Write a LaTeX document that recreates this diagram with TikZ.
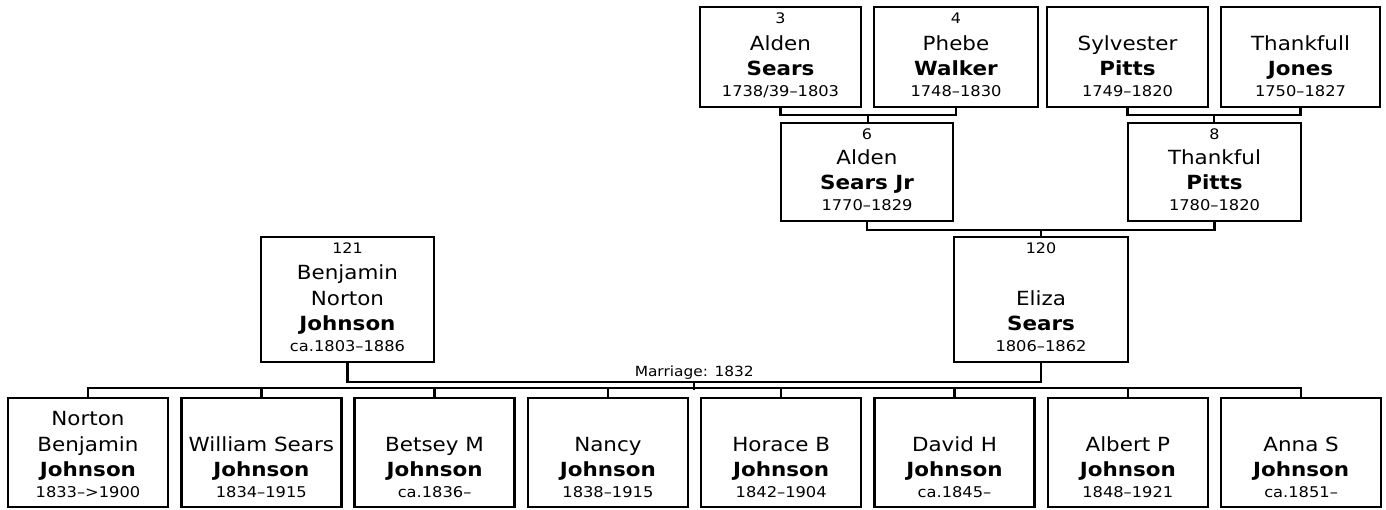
\documentclass[tikz,border=0pt]{standalone}
\usepackage{fontspec}
\setmainfont{DejaVu Sans}[FakeStretch=1.1]
\usetikzlibrary{calc}
\tikzset{
  pbox/.style={draw, line width=2.4pt, inner sep=0pt},
  conn/.style={draw, line width=2.4pt},
  txt/.style={anchor=base, inner sep=0pt},
  num/.style={txt, font=\fontsize{14.5}{16}\selectfont},
  given/.style={txt, font=\fontsize{19.5}{23}\selectfont},
  sur/.style={txt, font=\fontsize{19.5}{23}\selectfont\bfseries},
  dates/.style={txt, font=\fontsize{14.8}{17}\selectfont},
  marr/.style={txt, font=\fontsize{14}{16}\selectfont},
}
\begin{document}
\begin{tikzpicture}[x=1pt,y=-1pt]
\useasboundingbox (0,0) rectangle (1386,509);
% ---- top row (top 7, bottom 107)
\node[pbox, minimum width=161pt, minimum height=100pt] (b3) at (780.5,57) {};
\node[num]   (t3a) at (780.5,23) {3};
\node[given] (t3b) at (780.5,50) {Alden};
\node[sur]   (t3c) at (780.5,75.5) {Sears};
\node[dates] (t3d) at (780.5,96) {1738/39–1803};

\node[pbox, minimum width=164pt, minimum height=100pt] (b4) at (956,57) {};
\node[num]   (t4a) at (956,23) {4};
\node[given] (t4b) at (956,50) {Phebe};
\node[sur]   (t4c) at (956,75.5) {Walker};
\node[dates] (t4d) at (956,96) {1748–1830};

\node[pbox, minimum width=161pt, minimum height=100pt] (bS) at (1127.5,57) {};
\node[given] (tSb) at (1127.5,50) {Sylvester};
\node[sur]   (tSc) at (1127.5,75.5) {Pitts};
\node[dates] (tSd) at (1127.5,96) {1749–1820};

\node[pbox, minimum width=159pt, minimum height=100pt] (bJ) at (1300.5,57) {};
\node[given] (tJb) at (1300.5,50) {Thankfull};
\node[sur]   (tJc) at (1300.5,75.5) {Jones};
\node[dates] (tJd) at (1300.5,96) {1750–1827};

% ---- second row (top 123, bottom 221)
\node[pbox, minimum width=172pt, minimum height=98pt] (b6) at (867,172) {};
\node[num]   (t6a) at (867,139) {6};
\node[given] (t6b) at (867,164) {Alden};
\node[sur]   (t6c) at (867,189.5) {Sears Jr};
\node[dates] (t6d) at (867,210) {1770–1829};

\node[pbox, minimum width=173pt, minimum height=98pt] (b8) at (1214.5,172) {};
\node[num]   (t8a) at (1214.5,139) {8};
\node[given] (t8b) at (1214.5,164) {Thankful};
\node[sur]   (t8c) at (1214.5,189.5) {Pitts};
\node[dates] (t8d) at (1214.5,210) {1780–1820};

% ---- third row (top 237, bottom 362)
\node[pbox, minimum width=173pt, minimum height=125pt] (b121) at (347.5,299.5) {};
\node[num]   (t121a) at (347.5,253) {121};
\node[given] (t121b) at (347.5,279.5) {Benjamin};
\node[given] (t121c) at (347.5,305) {Norton};
\node[sur]   (t121d) at (347.5,330.5) {Johnson};
\node[dates] (t121e) at (347.5,351) {ca.1803–1886};

\node[pbox, minimum width=174pt, minimum height=125pt] (b120) at (1041,299.5) {};
\node[num]   (t120a) at (1041,253) {120};
\node[given] (t120b) at (1041,305) {Eliza};
\node[sur]   (t120c) at (1041,330.5) {Sears};
\node[dates] (t120d) at (1041,351) {1806–1862};

% ---- children (top 398, bottom 507)
\foreach \i/\x/\ga/\gb/\d in {
  1/88/Norton/Benjamin/1833–>1900,
  2/261.3/{}/William Sears/1834–1915,
  3/434.6/{}/Betsey M/ca.1836–,
  4/607.9/{}/Nancy/1838–1915,
  5/781.2/{}/Horace B/1842–1904,
  6/954.5/{}/David H/ca.1845–,
  7/1127.8/{}/Albert P/1848–1921,
  8/1301.1/{}/Anna S/ca.1851–}{
  \node[pbox, minimum width=160pt, minimum height=109pt] (c\i) at (\x,452.5) {};
  \node[given] (c\i a) at (\x,425.5) {\ga};
  \node[given] (c\i b) at (\x,451) {\gb};
  \node[sur]   (c\i c) at (\x,476.5) {Johnson};
  \node[dates] (c\i d) at (\x,497) {\d};
}

% ---- connectors
\draw[conn] (b3.south) -- ++(0,7) coordinate (p3) -| (b4.south);
\coordinate (m34) at ($(p3)!0.5!(p3-|b4.south)$);
\draw[conn] (m34) -- (m34|-b6.north);

\draw[conn] (bS.south) -- ++(0,7) coordinate (pS) -| (bJ.south);
\coordinate (mSJ) at ($(pS)!0.5!(pS-|bJ.south)$);
\draw[conn] (mSJ) -- (mSJ|-b8.north);

\draw[conn] (b6.south) -- ++(0,8) coordinate (p6) -| (b8.south);
\coordinate (m68) at ($(p6)!0.5!(p6-|b8.south)$);
\draw[conn] (m68) -- (m68|-b120.north);

\draw[conn] (b121.south) -- ++(0,19) coordinate (pm) -| (b120.south);
\coordinate (mm) at ($(pm)!0.5!(pm-|b120.south)$);
\node[marr] (mlab) at ($(mm)+(0,-5.5)$) {Marriage: 1832};
\draw[conn] (mm) -- ++(0,8) coordinate (cb);

\draw[conn] (c1.north) -- ++(0,-9) -| (c8.north);
\foreach \i in {2,...,7}{
  \draw[conn] (c\i.north) -- ++(0,-9);
}
\end{tikzpicture}
\end{document}
